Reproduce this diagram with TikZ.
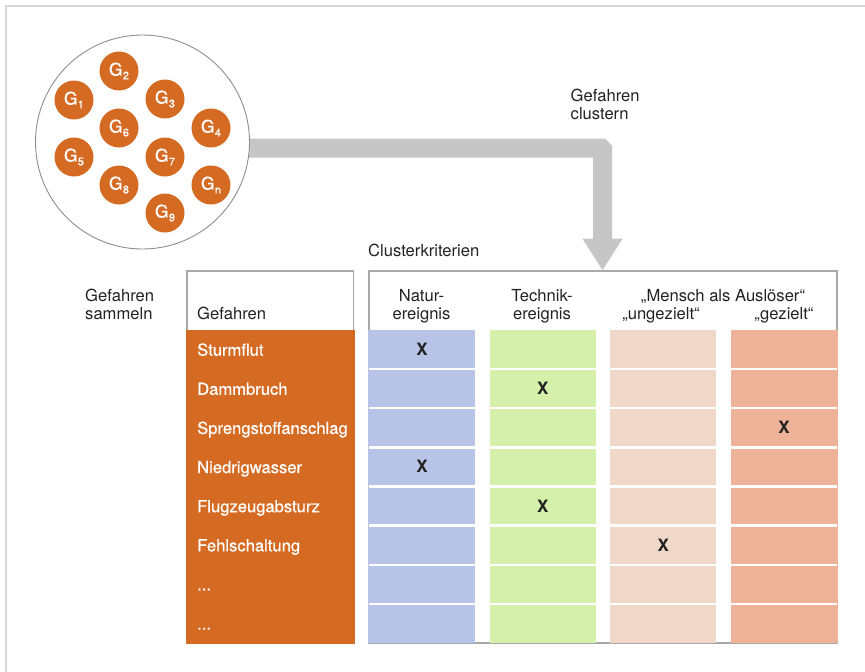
\documentclass[tikz,border=0pt]{standalone}
\usepackage{fontspec}
\setmainfont{TeX Gyre Heros}
\newfontfamily\medfont[FakeBold=0.6]{TeX Gyre Heros}
\usetikzlibrary{arrows.meta,calc}
\definecolor{orng}{HTML}{D56A23}
\definecolor{cblue}{HTML}{B8C3E8}
\definecolor{cgreen}{HTML}{D4F0AA}
\definecolor{cpeach}{HTML}{F0D8C8}
\definecolor{csalmon}{HTML}{EDB298}
\definecolor{arrowgray}{HTML}{C6C6C6}
\definecolor{framegray}{HTML}{D6D6D6}
\definecolor{outl}{HTML}{A8A8A8}
\definecolor{circgray}{HTML}{8E8E8E}
\definecolor{textdark}{HTML}{222222}
\begin{document}
\begin{tikzpicture}[x=1pt,y=-1pt,
  txt/.style={text=textdark, inner sep=0, font=\fontsize{16.6}{18}\selectfont},
  rowlbl/.style={text=white, inner sep=0, font=\medfont\fontsize{16.6}{18}\selectfont},
  xmark/.style={text=textdark, inner sep=0, font=\fontsize{17}{18}\selectfont\bfseries},
  gball/.style={circle, fill=orng, text=white, minimum size=39, inner sep=0, font=\medfont\fontsize{17.5}{18}\selectfont},
  colbox/.style={minimum width=106, minimum height=313, inner sep=0, draw=none},
  sep/.style={white, line width=2.4}
]
\useasboundingbox (0,0) rectangle (865,672);
% outer frame
\draw[framegray, line width=1.7] (5,5.8) -- (865,5.8);
\draw[framegray, line width=1.7] (5.8,5) -- (5.8,672);

% criteria box outline
\node[draw=outl, line width=1.1, minimum width=468, minimum height=372, inner sep=0] (crit) at (603,457) {};
\node[draw=outl, line width=1.1, minimum width=166.5, minimum height=372, inner sep=0] (gefbox) at (270.25,457) {};

% arrow
\coordinate (aend) at (602.5,270.5);
\coordinate (acorner) at (602.5,148);
\draw[arrowgray, line width=19, rounded corners=1.5,
  -{Triangle[width=38pt 0 0, length=32pt 0 0]}]
  ([yshift=-6pt]142.5,142) -- (acorner) -- (aend);

% pool of hazards
\node[circle, draw=circgray, line width=0.9, fill=white, minimum size=214, inner sep=0] (pool) at (142.5,142) {};
\newcommand{\gsub}[1]{G\kern0.3pt\raisebox{-3.8pt}{\fontsize{11}{11}\selectfont #1}}
\node[gball] (g1) at (74,100) {\gsub{1}};
\node[gball] (g2) at (119,71) {\gsub{2}};
\node[gball] (g3) at (165,99) {\gsub{3}};
\node[gball] (g4) at (211,128) {\gsub{4}};
\node[gball] (g5) at (74,157) {\gsub{5}};
\node[gball] (g6) at (119,128) {\gsub{6}};
\node[gball] (g7) at (165,157) {\gsub{7}};
\node[gball] (g8) at (119,185) {\gsub{8}};
\node[gball] (gn) at (211,185) {\gsub{n}};
\node[gball] (g9) at (165,213) {\gsub{9}};

% texts
\node[txt, anchor=base west] (gc1) at (570.5,101.5) {Gefahren};
\node[txt, anchor=base west] (gc2) at (570.5,119) {clustern};
\node[txt, anchor=base west] (ck) at (368,256.5) {Clusterkriterien};
\node[txt, anchor=base west] (gs1) at (85,301.5) {Gefahren};
\node[txt, anchor=base west] (gs2) at (85,319) {sammeln};
\node[txt, anchor=base west] (hg) at (197,319) {Gefahren};
\node[txt, anchor=base] (h1a) at (421.5,301.5) {Natur-};
\node[txt, anchor=base] (h1b) at (421.5,319) {ereignis};
\node[txt, anchor=base] (h2a) at (542,301.5) {Technik-};
\node[txt, anchor=base] (h2b) at (542,319) {ereignis};
\node[txt, anchor=base] (h3a) at (723,301.5) {„Mensch als Auslöser“};
\node[txt, anchor=base] (h3b) at (661,319) {„ungezielt“};
\node[txt, anchor=base] (h4b) at (784,319) {„gezielt“};

% hazard column
\node[fill=orng, minimum width=168.5, minimum height=314, inner sep=0] (haz) at (270.25,486.5) {};
\foreach \t [count=\i] in {Sturmflut,Dammbruch,Sprengstoffanschlag,Niedrigwasser,Flugzeugabsturz,Fehlschaltung}
  \node[rowlbl, anchor=base west] (lab\i) at (197,{330+39.125*(\i-1)+25.7}) {\t};
\node[rowlbl, anchor=base west] (lab7) at (197,{330+39.125*6+25.7}) {...};
\node[rowlbl, anchor=base west] (lab8) at (197,{330+39.125*7+25.7}) {...};

% criteria columns
\node[colbox, fill=cblue, minimum width=107] (col1) at (421.5,486.5) {};
\node[colbox, fill=cgreen] (col2) at (542.67,486.5) {};
\node[colbox, fill=cpeach] (col3) at (663.33,486.5) {};
\node[colbox, fill=csalmon, minimum width=107] (col4) at (784.5,486.5) {};
\foreach \j in {0,...,3}
  \foreach \i in {1,...,7}
    \draw[sep] ({369+120.67*\j},{330+39.125*\i}) -- ++(106,0);

% marks
\foreach \r/\c [count=\k] in {1/1,2/2,3/4,4/1,5/2,6/3}
  \node[xmark, anchor=base] (x\k) at ({422+120.67*(\c-1)},{330+39.125*(\r-1)+25.6}) {X};
\end{tikzpicture}
\end{document}
